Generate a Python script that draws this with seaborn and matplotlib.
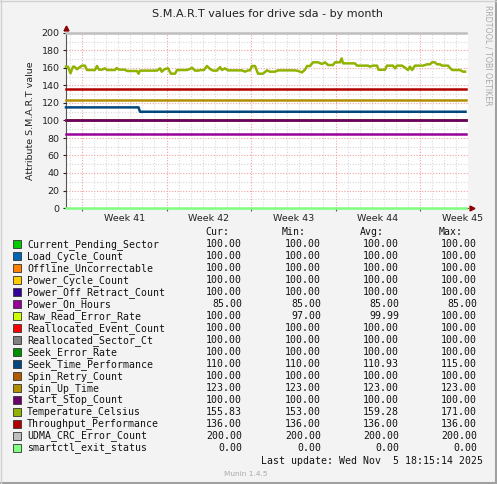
import numpy as np
import pandas as pd
import seaborn as sns
import matplotlib.pyplot as plt
from matplotlib.patches import Rectangle
from matplotlib.lines import Line2D

# munin field order (= draw order) with the default munin palette
fields = ["Current_Pending_Sector", "Load_Cycle_Count", "Offline_Uncorrectable",
          "Power_Cycle_Count", "Power_Off_Retract_Count", "Power_On_Hours",
          "Raw_Read_Error_Rate", "Reallocated_Event_Count", "Reallocated_Sector_Ct",
          "Seek_Error_Rate", "Seek_Time_Performance", "Spin_Retry_Count",
          "Spin_Up_Time", "Start_Stop_Count", "Temperature_Celsius",
          "Throughput_Performance", "UDMA_CRC_Error_Count", "smartctl_exit_status"]
colors = ["#00CC00", "#0066B3", "#FF8000", "#FFCC00", "#330099", "#990099",
          "#CCFF00", "#FF0000", "#808080", "#008F00", "#00487D", "#B35A00",
          "#B38F00", "#6B006B", "#8FB300", "#B30000", "#BEBEBE", "#80FF80"]
cur = [100, 100, 100, 100, 100, 85, 100, 100, 100, 100, 110, 100, 123, 100, 155.83, 136, 200, 0]
mins = [100, 100, 100, 100, 100, 85, 97, 100, 100, 100, 110, 100, 123, 100, 153, 136, 200, 0]
avgs = [100, 100, 100, 100, 100, 85, 99.99, 100, 100, 100, 110.93, 100, 123, 100, 159.28, 136, 200, 0]
maxs = [100, 100, 100, 100, 100, 85, 100, 100, 100, 100, 115, 100, 123, 100, 171, 136, 200, 0]

# x in days since the left edge of the graph
end_day = 33.1
seek_day = [0, 6.01, 6.13, end_day]
seek_val = [115, 115, 110, 110]
temp_day = [0, 0.17, 0.37, 0.58, 0.70, 0.91, 1.08, 1.33, 1.57, 1.74, 2.40, 2.57, 2.73,
            2.98, 3.23, 3.40, 4.06, 4.20, 4.39, 4.89, 5.05, 5.88, 6.01, 6.13, 7.54,
            7.79, 7.93, 8.20, 8.45, 8.70, 9.03, 9.20, 10.02, 10.27, 10.44, 10.69,
            10.94, 11.18, 11.43, 11.68, 11.93, 12.18, 12.51, 12.76, 12.92, 13.17,
            13.42, 14.58, 14.83, 15.08, 15.24, 15.41, 15.66, 15.91, 16.32, 16.65,
            16.90, 17.32, 17.56, 18.97, 19.22, 19.55, 19.80, 19.97, 20.22, 20.46,
            20.88, 21.21, 21.46, 21.71, 22.12, 22.29, 22.70, 22.84, 22.95, 23.94,
            24.11, 25.02, 25.19, 25.43, 25.77, 25.89, 26.43, 26.59, 27.09, 27.26,
            27.42, 27.84, 28.09, 28.33, 28.50, 28.67, 28.91, 29.58, 29.91, 30.16,
            30.32, 30.57, 30.74, 30.99, 31.16, 31.65, 31.82, 31.99, 32.64, 32.89, 33.06]
temp_val = [161.5, 161.5, 154, 161.5, 161.5, 158.5, 160.4, 162.7, 162.7, 157.7, 157.7,
            162.3, 158.1, 158.1, 159.6, 157.7, 157.7, 160, 158.1, 158.1, 156.6, 156.6,
            153.5, 157, 157, 159.6, 155.8, 158.9, 159.6, 153.5, 153.5, 157.7, 157.7,
            158.9, 160.4, 157, 157, 157.7, 157.7, 162.3, 158.9, 157, 157, 161, 157.7,
            159.6, 157.3, 157.3, 155.8, 157.3, 157.3, 162.3, 162.3, 153.5, 153.5, 157.3,
            155.8, 155.8, 157.3, 157.3, 156.6, 155, 158, 162.3, 162.3, 166.5, 166.5,
            164.6, 166.5, 163.4, 163.4, 166.5, 166.5, 171, 165.3, 165.3, 162.7, 162.7,
            161.5, 162.7, 162.7, 158, 158, 162.7, 162.7, 159.6, 162.7, 162.7, 160.4,
            157.7, 161.5, 157.7, 162.7, 162.7, 164.2, 164.2, 166.5, 166.5, 164.2, 164.2,
            162.7, 162.7, 160, 157.7, 157.7, 155.8, 155.83]

week_labels = ["Week 41", "Week 42", "Week 43", "Week 44", "Week 45"]
first_week = 1.33
last_update = "Last update: Wed Nov  5 18:15:14 2025"

rows = []
for name, c in zip(fields, cur):
    if name == "Seek_Time_Performance":
        rows += [(name, d, v) for d, v in zip(seek_day, seek_val)]
    elif name == "Temperature_Celsius":
        rows += [(name, d, v) for d, v in zip(temp_day, temp_val)]
    else:
        rows += [(name, 0, c), (name, end_day, c)]
df = pd.DataFrame(rows, columns=["series", "day", "value"])

W, H = 497, 484
plt.rcParams["font.family"] = ["DejaVu Sans"]
fig = plt.figure(figsize=(W / 100, H / 100), dpi=100, facecolor="#F3F3F3")
ax = fig.add_axes([66 / W, 1 - 208 / H, 402 / W, 175 / H])
ax.set_facecolor("white")

# grid first (munin style dotted)
minor_c, major_c = "#D8D8D8", "#F2A0A0"
for v in range(10, 200, 10):
    ax.axhline(v, color=major_c if v % 20 == 0 else minor_c, lw=0.8, ls=(0, (1, 1.5)), zorder=0.5)
for k in range(-1, 33):
    d = first_week + k
    if 0 < d < 33.3:
        ax.axvline(d, color=major_c if k % 7 == 0 else minor_c, lw=0.8, ls=(0, (1, 1.5)), zorder=0.5)

sns.lineplot(data=df, x="day", y="value", hue="series", hue_order=fields,
             palette=colors, linewidth=1.8, estimator=None, sort=False,
             legend=False, ax=ax)
for ln in ax.lines[-len(fields):]:
    ln.set_clip_on(False)
    ln.set_zorder(3)

ax.set_xlim(0, 402 / 12.07)
ax.set_ylim(0, 200)
ax.set_xlabel("")
ax.set_ylabel("Attribute S.M.A.R.T value", fontsize=6.8, labelpad=5, color="#222222")
for s in ["top", "right"]:
    ax.spines[s].set_visible(False)
for s in ["left", "bottom"]:
    ax.spines[s].set_color("#555555")
    ax.spines[s].set_linewidth(0.8)
    ax.spines[s].set_zorder(1)

ax.set_yticks(range(0, 201, 20))
ax.tick_params(axis="y", length=2.5, width=0.8, pad=2, labelsize=6.8, colors="#222222")
week_lines = [first_week + 7 * i for i in range(5)]
ax.set_xticks(week_lines, [""] * 5)
ax.set_xticks([w + 3.5 for w in week_lines], week_labels, minor=True)
ax.tick_params(axis="x", which="major", length=2, width=0.8, color="#555555")
ax.tick_params(axis="x", which="minor", length=0, pad=4, labelsize=6.8, labelcolor="#222222")

# axis arrows
ax.plot([0], [1.03], marker="^", color="#8B0000", markersize=3.5, transform=ax.transAxes, clip_on=False)
ax.plot([1.01], [0], marker=">", color="#8B0000", markersize=3.5, transform=ax.transAxes, clip_on=False)

fig.text(267 / W, 1 - 14 / H, "S.M.A.R.T values for drive sda - by month",
         ha="center", va="center", fontsize=8, color="#222222")
fig.text(488 / W, 1 - 5 / H, "RRDTOOL / TOBI OETIKER", rotation=270, ha="center",
         va="top", fontsize=5.7, color="#AAAAAA")

# legend table
mono = "DejaVu Sans Mono"
fs = 7.1
col_right = [242, 321, 399, 477]
head_right = [229, 306, 384, 463]
for hdr, xr in zip(["Cur:", "Min:", "Avg:", "Max:"], head_right):
    fig.text(xr / W, 1 - 232.5 / H, hdr, ha="right", va="center", family=mono, fontsize=fs, color="#111111")
for i, name in enumerate(fields):
    y = 244.3 + i * 11.98
    fig.add_artist(Rectangle((13 / W, 1 - (y + 4) / H), 8 / W, 8 / H, transform=fig.transFigure,
                             facecolor=colors[i], edgecolor="#333333", lw=0.6))
    fig.text(27 / W, 1 - y / H, name, ha="left", va="center", family=mono, fontsize=fs, color="#111111")
    for vals, xr in zip([cur, mins, avgs, maxs], col_right):
        fig.text(xr / W, 1 - y / H, f"{vals[i]:.2f}", ha="right", va="center",
                 family=mono, fontsize=fs, color="#111111")
fig.text(483 / W, 1 - 460.5 / H, last_update, ha="right", va="center", family=mono, fontsize=fs, color="#111111")
fig.text(224 / W, 1 - 473.5 / H, "Munin 1.4.5", ha="left", va="center", fontsize=5.3, color="#AAAAAA")

# 3d-ish frame
fig.add_artist(Line2D([0, 1], [1.5 / H, 1.5 / H], transform=fig.transFigure, color="#A0A0A0", lw=2.2))
fig.add_artist(Line2D([1 - 1.5 / W, 1 - 1.5 / W], [0, 1], transform=fig.transFigure, color="#A0A0A0", lw=2.2))
fig.add_artist(Line2D([0, 1], [1 - 0.5 / H, 1 - 0.5 / H], transform=fig.transFigure, color="#D0D0D0", lw=1))
fig.add_artist(Line2D([0.5 / W, 0.5 / W], [0, 1], transform=fig.transFigure, color="#D0D0D0", lw=1))

fig.savefig("out.png", dpi=100, facecolor=fig.get_facecolor())
